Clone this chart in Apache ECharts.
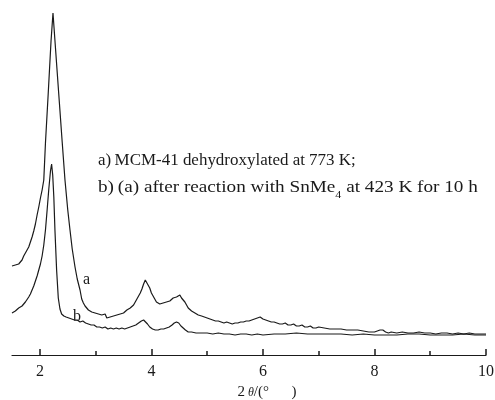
<!DOCTYPE html>
<html>
<head>
<meta charset="utf-8">
<script src="https://cdn.jsdelivr.net/npm/echarts@6/dist/echarts.min.js"></script>
<style>html,body{margin:0;padding:0;background:#fff;}#c{width:495px;height:400px;}</style>
</head>
<body>
<div id="c"></div>
<script>
// Curve a: MCM-41 dehydroxylated at 773 K (2θ, intensity a.u.)
var aTheta = [1.50,1.53,1.56,1.59,1.62,1.65,1.68,1.71,1.74,1.77,1.80,1.83,1.86,1.89,1.92,1.95,1.98,2.01,2.04,2.07,2.10,2.15,2.20,2.235,2.30,2.35,2.40,2.45,2.50,2.54,2.58,2.63,2.67,2.72,2.75,2.78,2.81,2.84,2.87,2.90,2.93,2.96,2.99,3.02,3.05,3.08,3.11,3.14,3.17,3.20,3.23,3.26,3.29,3.32,3.35,3.38,3.41,3.44,3.47,3.50,3.53,3.56,3.59,3.62,3.65,3.68,3.71,3.74,3.77,3.80,3.83,3.86,3.89,3.91,3.94,3.97,4.00,4.03,4.06,4.09,4.12,4.15,4.18,4.21,4.24,4.27,4.30,4.33,4.36,4.39,4.42,4.45,4.48,4.51,4.54,4.57,4.60,4.63,4.66,4.69,4.72,4.75,4.78,4.81,4.84,4.87,4.90,4.95,5.00,5.05,5.10,5.15,5.20,5.25,5.30,5.35,5.40,5.45,5.50,5.55,5.60,5.65,5.70,5.75,5.80,5.85,5.90,5.95,6.00,6.05,6.10,6.15,6.20,6.25,6.30,6.35,6.40,6.45,6.50,6.55,6.60,6.65,6.70,6.75,6.80,6.85,6.90,6.95,7.00,7.10,7.20,7.30,7.40,7.50,7.60,7.70,7.80,7.90,8.00,8.05,8.10,8.15,8.20,8.25,8.30,8.40,8.50,8.60,8.70,8.80,8.90,9.00,9.10,9.20,9.30,9.40,9.50,9.60,9.70,9.80,9.90,10.00];
var aVal = [89,88,90,92,91,93,95,99,102,104,108,113,118,124,131,140,148,157,165,175,212,262,314,342,291,252,213,175,145,125,106,88,76,65,56,52,49,47,45,46,43,44,42,43,41,42,40,39,41,37,39,38,40,39,41,40,42,41,43,42,44,45,44,47,48,50,53,56,58,62,66,71,75,74,70,67,62,59,56,53,52,51,53,52,54,53,55,54,56,57,56,58,59,60,57,56,53,50,47,45,44,42,42,41,40,40,39,38,37,36,35,34,34,33,32,33,32,31,32,32,33,33,34,34,35,36,37,38,36,35,34,33,33,32,31,31,32,30,30,31,29,29,30,28,28,29,27,27,28,27,26,26,26,25,25,25,24,23,23,24,25,25,23,22,23,22,23,22,22,23,22,22,21,22,22,21,22,21,22,21,21,21];
// Curve b: (a) after reaction with SnMe4 at 423 K for 10 h
var bTheta = [1.50,1.53,1.56,1.59,1.62,1.65,1.68,1.71,1.74,1.77,1.80,1.83,1.86,1.89,1.92,1.95,1.98,2.01,2.04,2.07,2.10,2.13,2.16,2.19,2.21,2.23,2.25,2.27,2.30,2.33,2.36,2.39,2.43,2.47,2.52,2.57,2.62,2.67,2.72,2.77,2.82,2.87,2.92,2.97,3.02,3.07,3.12,3.17,3.22,3.27,3.32,3.37,3.42,3.47,3.52,3.57,3.62,3.67,3.72,3.77,3.82,3.86,3.89,3.93,3.97,4.02,4.07,4.12,4.17,4.22,4.27,4.32,4.37,4.41,4.45,4.49,4.53,4.57,4.61,4.66,4.72,4.80,4.90,5.00,5.10,5.20,5.30,5.40,5.50,5.60,5.70,5.80,5.90,6.00,6.20,6.40,6.60,6.80,7.00,7.20,7.40,7.60,7.80,8.00,8.20,8.40,8.60,8.80,9.00,9.20,9.40,9.60,9.80,10.00];
var bVal = [42,42,44,45,47,48,49,51,53,55,58,61,65,69,74,79,85,91,99,110,125,145,166,184,191,180,158,125,85,57,46,41,39,38,37,36,35,35,33,34,32,31,30,30,28,28,27,28,26,27,26,27,26,27,26,27,28,29,30,32,34,35,34,31,28,26,25,25,26,26,27,28,30,32,33,32,29,27,25,23,23,22,22,22,21,22,21,21,20,21,21,20,21,20,21,21,22,21,21,21,21,20,21,20,20,20,21,21,20,20,20,21,20,20];
var majorTicks = [2,4,6,8,10];
var minorTicks = [3,5,7,9];
var curveNames = ['a','b'];
var legendLines = ['a)\u2009MCM-41 dehydroxylated at 773 K;', 'b)\u2009(a) after reaction with SnMe', '4', ' at 423 K for 10 h'];
var axisTitleParts = ['2\u2009', 'θ', '/(°\u2003\u2002)'];

function pairs(xs, ys){ return xs.map(function(x,i){ return [x, ys[i]]; }); }

var chart = echarts.init(document.getElementById('c'));
var FONT = '"Liberation Serif", "DejaVu Serif", serif';
var INK = '#1a1a1a';
chart.setOption({
  animation: false,
  backgroundColor: '#fff',
  grid: { left: 12, right: 9, top: 5, bottom: 45, outerBoundsMode: 'none', containLabel: false },
  xAxis: [{
    type: 'value', min: 1.5, max: 10,
    axisLine: { show: true, lineStyle: { color: INK, width: 1.2 } },
    axisTick: { show: true, inside: true, length: 6, customValues: majorTicks, lineStyle: { color: INK, width: 1.5 } },
    axisLabel: { show: true, customValues: majorTicks, margin: 9, color: INK, fontFamily: FONT, fontSize: 16 },
    splitLine: { show: false },
    name: '{n|' + axisTitleParts[0] + '}{t|' + axisTitleParts[1] + '}{n|' + axisTitleParts[2] + '}',
    nameLocation: 'middle', nameGap: 29,
    nameTextStyle: {
      color: INK, fontFamily: FONT, fontSize: 15, padding: [0, 0, 0, 36],
      rich: {
        n: { color: INK, fontFamily: FONT, fontSize: 15 },
        t: { color: INK, fontFamily: FONT, fontSize: 12, fontStyle: 'italic' }
      }
    }
  }, {
    type: 'value', min: 1.5, max: 10, position: 'bottom', gridIndex: 0,
    axisLine: { show: false },
    axisTick: { show: true, inside: true, length: 4, customValues: minorTicks, lineStyle: { color: INK, width: 1.5 } },
    axisLabel: { show: false },
    splitLine: { show: false }
  }],
  yAxis: { type: 'value', min: 0, max: 350, show: false, splitLine: { show: false } },
  series: [{
    name: curveNames[0], type: 'line', showSymbol: false, xAxisIndex: 0,
    data: pairs(aTheta, aVal), lineStyle: { color: INK, width: 1.2 }, silent: true
  }, {
    name: curveNames[1], type: 'line', showSymbol: false, xAxisIndex: 0,
    data: pairs(bTheta, bVal), lineStyle: { color: INK, width: 1.2 }, silent: true
  }],
  graphic: [
    { type: 'text', left: 83, top: 272, style: { text: curveNames[0], font: '16px ' + FONT, fill: INK } },
    { type: 'text', left: 73, top: 309, style: { text: curveNames[1], font: '16px ' + FONT, fill: INK } },
    { type: 'text', x: 98, y: 153, scaleX: 1.06, style: { text: legendLines[0], font: '16px ' + FONT, fill: INK } },
    { type: 'text', x: 98, y: 180, scaleX: 1.2, style: {
        text: '{n|' + legendLines[1] + '}{s|' + legendLines[2] + '}{n|' + legendLines[3] + '}',
        rich: {
          n: { font: '16px ' + FONT, fill: INK, color: INK, lineHeight: 19, verticalAlign: 'top' },
          s: { font: '10px ' + FONT, fill: INK, color: INK, lineHeight: 19, padding: [10, 0, 0, 0], verticalAlign: 'top' }
        } } }
  ]
});
</script>
</body>
</html>
